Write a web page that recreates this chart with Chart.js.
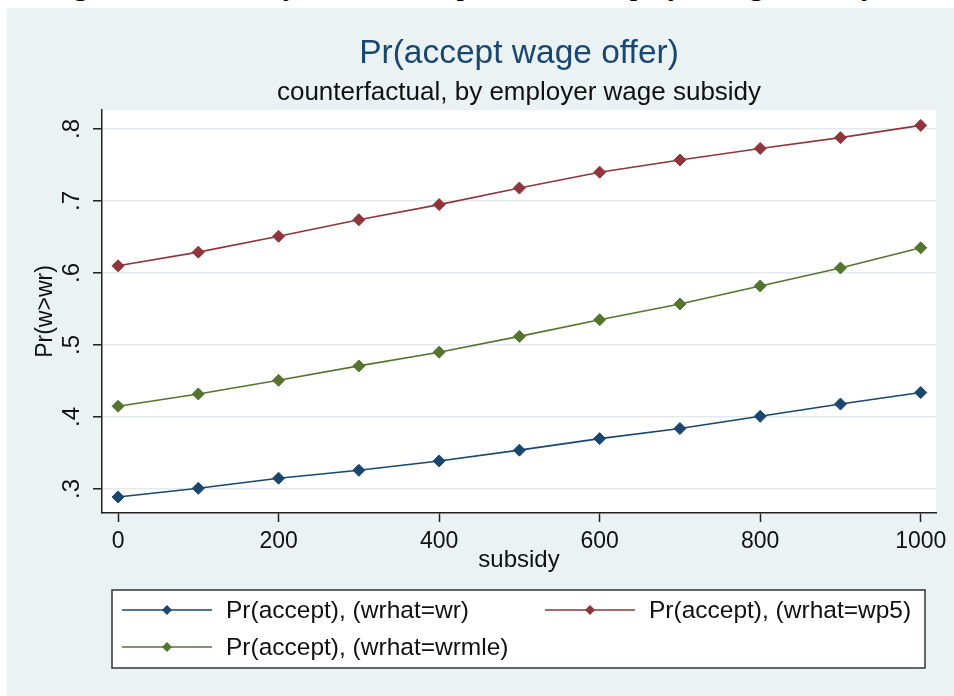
<!DOCTYPE html>
<html>
<head>
<meta charset="utf-8">
<title>Pr(accept wage offer)</title>
<script src="https://cdn.jsdelivr.net/npm/chart.js@4.4.1/dist/chart.umd.min.js"></script>
<style>
  html, body { margin: 0; padding: 0; background: #fff; }
  #wrap { position: relative; width: 954px; height: 696px; overflow: hidden; }
  #wrap canvas { position: absolute; left: 0; top: 0; }
  #caption { position: absolute; left: 48px; top: -30px; font: 30px/30px "Liberation Serif", serif; white-space: nowrap; color: #000; }
</style>
</head>
<body>
<div id="wrap">
  <div id="caption">Figure 3: Probability of offer acceptance and employer wage subsidy</div>
  <canvas id="acceptChart" width="954" height="696"></canvas>
</div>
<script>
// --- data ---
const subsidy = [0, 100, 200, 300, 400, 500, 600, 700, 800, 900, 1000];
const prWr    = [0.289, 0.301, 0.315, 0.326, 0.339, 0.354, 0.370, 0.384, 0.401, 0.418, 0.434];
const prWp5   = [0.610, 0.629, 0.651, 0.674, 0.695, 0.718, 0.740, 0.757, 0.773, 0.788, 0.805];
const prWrmle = [0.415, 0.432, 0.451, 0.471, 0.490, 0.512, 0.535, 0.557, 0.582, 0.607, 0.635];

const seriesLabels = ['Pr(accept), (wrhat=wr)', 'Pr(accept), (wrhat=wp5)', 'Pr(accept), (wrhat=wrmle)'];
const xTicks = [0, 200, 400, 600, 800, 1000];
const yTicks = [0.3, 0.4, 0.5, 0.6, 0.7, 0.8];
const yTickLabels = ['.3', '.4', '.5', '.6', '.7', '.8'];

// stata s2color-ish palette
const navy = '#1a476f';
const maroon = '#90353b';
const olive = '#55752f';
const FONT = '"Liberation Sans", Arial, sans-serif';

const toPoints = ys => subsidy.map((x, i) => ({ x, y: ys[i] }));

function series(label, ys, color) {
    return {
        label,
        data: toPoints(ys),
        borderColor: color,
        backgroundColor: color,
        borderWidth: 1.6,
        pointStyle: 'rectRot',
        pointRadius: 6,
        pointBorderWidth: 1,
        pointBorderColor: color,
        pointBackgroundColor: color,
        tension: 0
    };
}

// --- background, titles, boxed legend ---
const stataFrame = {
    id: 'stataFrame',
    beforeDraw(chart) {
        const { ctx, chartArea: a } = chart;
        ctx.save();
        ctx.fillStyle = '#eaf2f3';
        ctx.fillRect(7, 8, chart.width - 7, chart.height - 8);
        ctx.fillStyle = '#fff';
        ctx.fillRect(a.left, a.top, a.right - a.left, a.bottom - a.top);
        ctx.restore();
    },
    afterDraw(chart) {
        const { ctx, chartArea: a } = chart;
        const cx = (a.left + a.right) / 2;
        ctx.save();
        ctx.textAlign = 'center';
        ctx.textBaseline = 'alphabetic';
        ctx.fillStyle = navy;
        ctx.font = '33.5px ' + FONT;
        ctx.fillText('Pr(accept wage offer)', cx, 63);
        ctx.fillStyle = '#111';
        ctx.font = '26px ' + FONT;
        ctx.fillText('counterfactual, by employer wage subsidy', cx, 100);

        // legend box
        const box = { left: 112, top: 590, right: 925, bottom: 668 };
        ctx.fillStyle = '#fff';
        ctx.fillRect(box.left, box.top, box.right - box.left, box.bottom - box.top);
        ctx.strokeStyle = '#333';
        ctx.lineWidth = 1.5;
        ctx.strokeRect(box.left, box.top, box.right - box.left, box.bottom - box.top);

        const slots = [
            { x: 122, y: 610 },
            { x: 545, y: 610 },
            { x: 122, y: 647 }
        ];
        ctx.textAlign = 'left';
        ctx.textBaseline = 'middle';
        ctx.font = '24.5px ' + FONT;
        chart.data.datasets.forEach((ds, i) => {
            const s = slots[i];
            ctx.strokeStyle = ds.borderColor;
            ctx.lineWidth = 1.6;
            ctx.beginPath();
            ctx.moveTo(s.x, s.y);
            ctx.lineTo(s.x + 90, s.y);
            ctx.stroke();
            ctx.fillStyle = ds.borderColor;
            ctx.beginPath();
            ctx.moveTo(s.x + 45 - 5, s.y);
            ctx.lineTo(s.x + 45, s.y - 5);
            ctx.lineTo(s.x + 45 + 5, s.y);
            ctx.lineTo(s.x + 45, s.y + 5);
            ctx.closePath();
            ctx.fill();
            ctx.fillStyle = '#111';
            ctx.fillText(ds.label, s.x + 104, s.y + 1);
        });
        ctx.restore();
    }
};

const tickFont = { family: FONT, size: 23 };

new Chart(document.getElementById('acceptChart'), {
    type: 'line',
    data: {
        datasets: [
            series(seriesLabels[0], prWr, navy),
            series(seriesLabels[1], prWp5, maroon),
            series(seriesLabels[2], prWrmle, olive)
        ]
    },
    options: {
        responsive: false,
        animation: false,
        layout: { padding: { left: 7, top: 110, right: 18, bottom: 0 } },
        plugins: {
            legend: { display: false },
            title: { display: false },
            tooltip: { enabled: false }
        },
        scales: {
            x: {
                type: 'linear',
                min: -20,
                max: 1019,
                afterFit: s => { s.height = 183; },
                afterBuildTicks: s => { s.ticks = xTicks.map(v => ({ value: v })); },
                border: { display: true, color: '#222', width: 1.5 },
                grid: { drawOnChartArea: false, tickLength: 9, tickColor: '#222', tickWidth: 1.5 },
                ticks: { font: tickFont, color: '#111', padding: 6, maxRotation: 0, callback: (v, i) => String(xTicks[i]) },
                title: { display: true, text: 'subsidy', font: { family: FONT, size: 24 }, color: '#111', padding: { top: 0, bottom: 121 } }
            },
            y: {
                min: 0.2667,
                max: 0.8264,
                afterFit: s => { s.width = 95; },
                afterBuildTicks: s => { s.ticks = yTicks.map(v => ({ value: v })); },
                border: { display: true, color: '#222', width: 1.5 },
                grid: { color: '#e3ebee', lineWidth: 1.5, tickLength: 9, tickColor: '#222', tickWidth: 1.5 },
                ticks: {
                    font: { family: FONT, size: 24 }, color: '#111', padding: 11,
                    minRotation: 90, maxRotation: 90, crossAlign: 'center',
                    callback: (v, i) => yTickLabels[i]
                },
                title: { display: true, text: 'Pr(w>wr)', font: { family: FONT, size: 23 }, color: '#111', padding: { top: 25, bottom: 0 } }
            }
        }
    },
    plugins: [stataFrame]
});
</script>
</body>
</html>
